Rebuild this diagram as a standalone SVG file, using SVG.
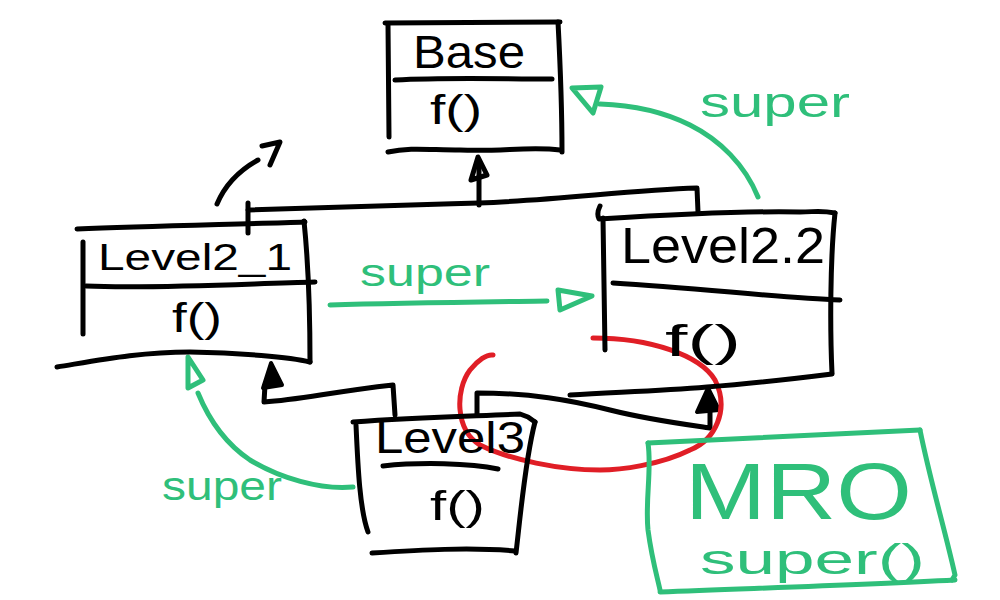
<svg xmlns="http://www.w3.org/2000/svg" width="1000" height="600" viewBox="0 0 1000 600">
<style>
.k{fill:none;stroke:#000;stroke-width:5;stroke-linecap:round;stroke-linejoin:round}
.kf{fill:#000;stroke:#000;stroke-width:4;stroke-linejoin:round}
.g{fill:none;stroke:#2fbf7a;stroke-width:5;stroke-linecap:round;stroke-linejoin:round}
.r{fill:none;stroke:#e01e26;stroke-width:5;stroke-linecap:round;stroke-linejoin:round}
.t{font-family:"Liberation Sans","DejaVu Sans",sans-serif;fill:#000}
.tg{font-family:"Liberation Sans","DejaVu Sans",sans-serif;fill:#2fbf7a}
</style>
<rect width="1000" height="600" fill="#fff"/>

<g id="connectors">
  <!-- Level2_x -> Base inheritance -->
  <path class="k" d="M248,233 L248,203"/>
  <path class="k" d="M248,210 C320,208 400,205 479,203 C560,200 630,190 697,188 L698,212"/>
  <path class="k" d="M479,205 L479,162"/>
  <path class="k" d="M478,157 L471,180 L487,175 Z"/>
  <!-- Level3 -> Level2_1 -->
  <path class="k" d="M395,415 L393,385 C330,392 300,400 264,402 L265,385"/>
  <path class="kf" d="M271,363 L263,388 L282,385 Z"/>
  <!-- Level3 -> Level2.2 -->
  <path class="k" d="M477,415 L477,393 C530,393 570,400 610,410 C650,420 690,425 710,428 L710,395"/>
  <path class="kf" d="M708,388 L697,412 L719,410 Z"/>
  <!-- small black arrow above Level2_1 -->
  <path class="k" d="M217,204 C225,185 240,170 258,160"/>
  <path class="k" d="M262,146 L280,142 L270,165"/>
  <!-- green super arrows -->
  <path class="g" d="M758,197 C745,165 720,140 690,125 C660,110 630,105 600,104"/>
  <path class="g" d="M601,87 L572,88 L593,113 Z"/>
  <text class="tg" x="700" y="117" font-size="42" textLength="150" lengthAdjust="spacingAndGlyphs">super</text>
  <path class="g" d="M330,305 C400,303 480,302 547,301"/>
  <path class="g" d="M558,290 L592,296 L560,310 Z"/>
  <text class="tg" x="360" y="286" font-size="38" textLength="130" lengthAdjust="spacingAndGlyphs">super</text>
  <path class="g" d="M353,487 C320,490 280,478 250,460 C220,440 205,410 198,393"/>
  <path class="g" d="M188,357 L203,380 L188,388 Z"/>
  <text class="tg" x="162" y="500" font-size="40" textLength="120" lengthAdjust="spacingAndGlyphs">super</text>
  <!-- red MRO loop -->
  <path class="r" d="M593,338 C650,338 700,355 715,380 C730,410 715,440 690,450 C660,465 620,470 600,470 C560,470 510,460 480,445 C455,430 455,390 470,370 C478,360 487,354 493,355"/>
</g>

<g id="base">
  <path class="k" d="M385,23 L560,22"/>
  <path class="k" d="M388,24 L389,137"/>
  <path class="k" d="M558,22 C560,60 562,110 562,152"/>
  <path class="k" d="M395,80 C450,77 500,79 552,79"/>
  <path class="k" d="M388,152 C410,147 430,150 460,150 C500,152 530,146 560,150"/>
  <text class="t" x="413" y="68" font-size="46" textLength="112" lengthAdjust="spacingAndGlyphs">Base</text>
  <text class="t" x="430" y="124" font-size="40" textLength="52" lengthAdjust="spacingAndGlyphs">f()</text>
</g>

<g id="level2_1">
  <path class="k" d="M77,229 C150,226 250,224 305,222"/>
  <path class="k" d="M304,221 C308,260 310,320 310,362"/>
  <path class="k" d="M83,242 L83,334"/>
  <path class="k" d="M86,286 C150,289 240,284 315,282"/>
  <path class="k" d="M57,367 C100,360 140,352 190,352 C240,353 290,357 310,362"/>
  <text class="t" x="98" y="270" font-size="36" textLength="194" lengthAdjust="spacingAndGlyphs">Level2_1</text>
  <text class="t" x="172" y="332" font-size="40" textLength="50" lengthAdjust="spacingAndGlyphs">f()</text>
</g>

<g id="level2_2">
  <path class="k" d="M600,206 C598,210 597,215 599,219 C680,214 760,211 800,212 C815,212 820,210 835,213"/>
  <path class="k" d="M603,218 L605,350"/>
  <path class="k" d="M835,213 C830,260 830,330 832,373"/>
  <path class="k" d="M613,283 C700,288 780,298 840,300"/>
  <path class="k" d="M570,395 C620,392 660,391 707,387 C760,383 800,378 832,374"/>
  <text class="t" x="621" y="263" font-size="50" textLength="204" lengthAdjust="spacingAndGlyphs">Level2.2</text>
  <text class="t" x="665" y="356" font-size="44" textLength="76" lengthAdjust="spacingAndGlyphs">f()</text>
</g>

<g id="level3">
  <path class="k" d="M353,422 C420,417 480,416 520,414 L528,417 L535,422"/>
  <path class="k" d="M356,425 C358,470 360,510 368,532"/>
  <path class="k" d="M535,422 C525,460 520,520 516,553"/>
  <path class="k" d="M383,466 C420,462 470,463 498,469"/>
  <path class="k" d="M372,553 C420,550 470,547 515,551"/>
  <text class="t" x="375" y="453" font-size="44" textLength="150" lengthAdjust="spacingAndGlyphs">Level3</text>
  <text class="t" x="430" y="520" font-size="40" textLength="55" lengthAdjust="spacingAndGlyphs">f()</text>
</g>

<g id="mro">
  <path class="g" d="M648,443 C700,440 800,435 920,430"/>
  <path class="g" d="M648,443 C652,470 645,500 648,530 C652,560 658,580 660,590"/>
  <path class="g" d="M920,430 C930,480 945,530 955,575 L952,580"/>
  <path class="g" d="M660,592 C760,588 860,585 955,580"/>
  <text class="tg" x="685" y="519" font-size="80" textLength="227" lengthAdjust="spacingAndGlyphs">MRO</text>
  <text class="tg" x="700" y="574" font-size="42" textLength="225" lengthAdjust="spacingAndGlyphs">super()</text>
</g>
</svg>
